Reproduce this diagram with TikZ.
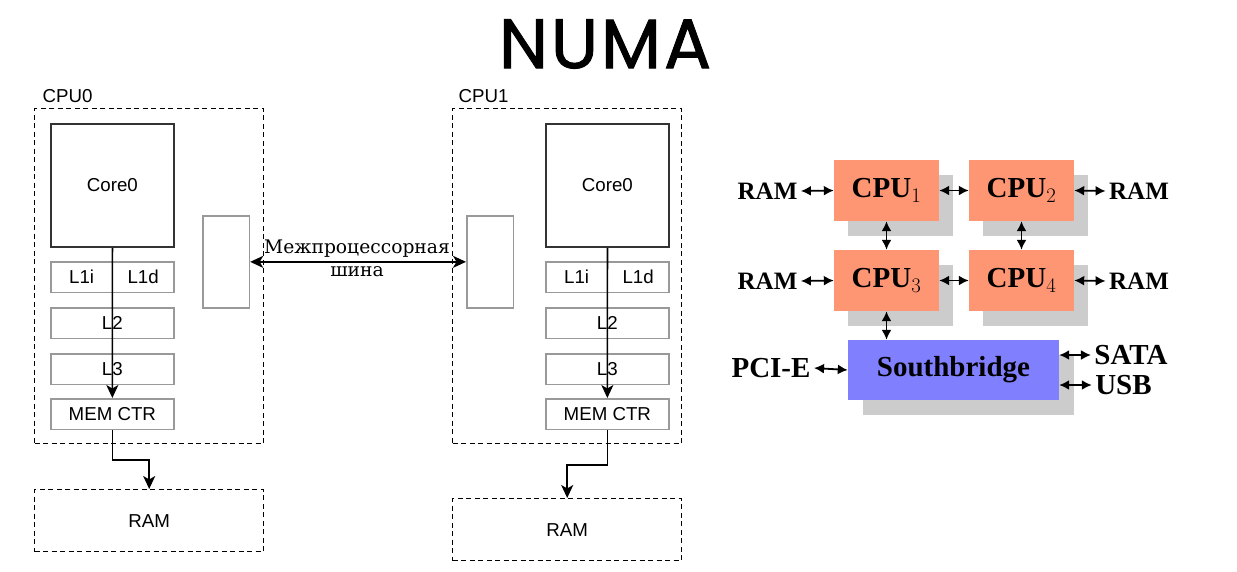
\documentclass[tikz,border=0pt]{standalone}
\usepackage{fontspec}
\setmainfont{Liberation Sans}
\newfontfamily\busfont{DejaVu Serif}
\newfontfamily\timesfont{Liberation Serif}
\newfontfamily\titlefont{Poppins}[FakeBold=1.3,LetterSpace=4]
\usetikzlibrary{arrows.meta,shadows}
\definecolor{cpuorange}{HTML}{FF9673}
\definecolor{sbblue}{HTML}{8080FF}
\definecolor{shadowgray}{HTML}{CCCCCC}
\definecolor{cachegray}{HTML}{999999}

\begin{document}
\begin{tikzpicture}[x=1pt,y=-1pt,
  every node/.style={font=\fontsize{18.7}{22.7}\selectfont},
  cpubox/.style={draw,line width=1.4pt,dash pattern=on 5pt off 3.5pt,anchor=north west,minimum width=229pt,minimum height=335pt},
  rambox/.style={draw,line width=1.4pt,dash pattern=on 5pt off 3.5pt,anchor=north west,minimum width=229pt,minimum height=62pt},
  core/.style={draw=black!80,line width=1.8pt,anchor=north west,minimum width=123pt,minimum height=123pt},
  cache/.style={draw=cachegray,line width=1.7pt,anchor=north west,minimum width=123pt,minimum height=30.5pt},
  port/.style={draw=cachegray,line width=1.7pt,anchor=north west,minimum width=46.5pt,minimum height=92pt},
  arr/.style={-{Stealth[length=13pt,width=12pt,inset=3.5pt]},line width=1.7pt},
  bus/.style={{Stealth[length=13pt,width=12pt,inset=3.5pt]}-{Stealth[length=13pt,width=12pt,inset=3.5pt]},line width=1.7pt},
  cpu/.style={fill=cpuorange,minimum width=105pt,minimum height=61pt,
    font=\timesfont\bfseries\fontsize{29}{34}\selectfont,
    drop shadow={shadow xshift=14pt,shadow yshift=-15pt,fill=shadowgray,opacity=1}},
  sbridge/.style={fill=sbblue,minimum width=211pt,minimum height=60pt,
    font=\timesfont\bfseries\fontsize{29}{34}\selectfont,
    drop shadow={shadow xshift=15pt,shadow yshift=-15pt,fill=shadowgray,opacity=1}},
  lbl/.style={font=\timesfont\bfseries\fontsize{29}{34}\selectfont},
  ramlbl/.style={font=\timesfont\bfseries\fontsize{25}{30}\selectfont},
  dbl/.style={{Latex[length=10pt,width=10pt]}-{Latex[length=10pt,width=10pt]},line width=1.8pt}]
\useasboundingbox (0,0) rectangle (1237,571);

\node[font=\titlefont\fontsize{70}{80}\selectfont] (title) at (605,44) {NUMA};

% CPU0
\node[cpubox] (cpua) at (34,108) {};
\node[anchor=base west] (cpualbl) at (39,102) {CPU0};
\node[core] (corea) at (50,123) {Core0};
\node[cache] (l1a) at (50,261) {};
\node (l1ia) at ([xshift=-30.75pt]l1a.center) {L1i};
\node (l1da) at ([xshift=30.75pt]l1a.center) {L1d};
\node[cache] (l2a) at (50,307) {L2};
\node[cache] (l3a) at (50,353) {L3};
\node[cache] (mca) at (50,398) {MEM CTR};
\node[port] (porta) at (202,215) {};
\node[rambox] (rama) at (34,489) {RAM};

% CPU1
\node[cpubox] (cpub) at (452,108) {};
\node[anchor=base west] (cpublbl) at (455,102) {CPU1};
\node[core] (coreb) at (545,123) {Core0};
\node[cache] (l1b) at (545,261) {};
\node (l1ib) at ([xshift=-30.75pt]l1b.center) {L1i};
\node (l1db) at ([xshift=30.75pt]l1b.center) {L1d};
\node[cache] (l2b) at (545,307) {L2};
\node[cache] (l3b) at (545,353) {L3};
\node[cache] (mcb) at (545,398) {MEM CTR};
\node[port] (portb) at (466,215) {};
\node[rambox] (ramb) at (452,498) {RAM};

\draw[arr] (corea.south) -- (mca.north);
\draw[arr] (mca.south) -- ++(0,30) -| (rama.north);
\draw[arr] (coreb.south) -- (mcb.north);
\draw[arr] (mcb.south) -- ++(0,35) -| (ramb.north);
\draw[bus] (porta.east) -- (portb.west);
\node[font=\busfont\fontsize{18.7}{22.7}\selectfont,align=center] (buslbl) at (357,258) {Межпроцессорная\\шина};

% right side
\node[cpu] (c1) at (886.5,190.5) {CPU$_1$};
\node[cpu] (c2) at (1021.5,190.5) {CPU$_2$};
\node[cpu] (c3) at (886.5,280.5) {CPU$_3$};
\node[cpu] (c4) at (1021.5,280.5) {CPU$_4$};
\node[sbridge] (sb) at (953.5,370) {Southbridge};
\node[ramlbl] (ram1) at (767.5,191) {RAM};
\node[ramlbl] (ram2) at (1139,191) {RAM};
\node[ramlbl] (ram3) at (767.5,281) {RAM};
\node[ramlbl] (ram4) at (1139,281) {RAM};
\node[lbl] (pcie) at (771,368) {PCI-E};
\node[lbl] (sata) at (1131,355) {SATA};
\node[lbl] (usb) at (1123.5,385) {USB};

\draw[dbl] (ram1.east) -- (c1.west);
\draw[dbl] (c1.east) -- (c2.west);
\draw[dbl] (c2.east) -- (ram2.west);
\draw[dbl] (ram3.east) -- (c3.west);
\draw[dbl] (c3.east) -- (c4.west);
\draw[dbl] (c4.east) -- (ram4.west);
\draw[dbl] (c1.south) -- (c3.north);
\draw[dbl] (c2.south) -- (c4.north);
\draw[dbl] (c3.south) -- (c3.south |- sb.north);
\draw[dbl] (pcie.east) -- (sb.west);
\draw[dbl] (sb.east |- sata) -- (sata.west);
\draw[dbl] (sb.east |- usb) -- (usb.west);
\end{tikzpicture}
\end{document}
